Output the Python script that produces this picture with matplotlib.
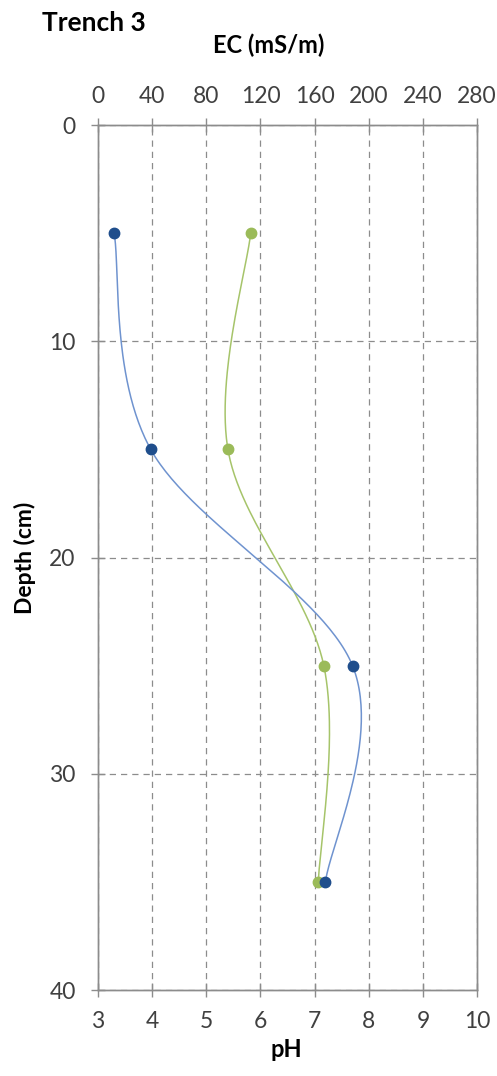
import numpy as np
import matplotlib
matplotlib.use('Agg')
import matplotlib.pyplot as plt

plt.rcParams['font.family'] = ['Lato', 'DejaVu Sans']

depth = [5, 15, 25, 35]
ec = [12, 39, 188, 168]          # mS/m, top axis
ph = [5.82, 5.40, 7.17, 7.07]    # bottom axis

ph_ticks = [3, 4, 5, 6, 7, 8, 9, 10]
ec_ticks = [0, 40, 80, 120, 160, 200, 240, 280]
depth_ticks = [0, 10, 20, 30, 40]

gridc = '#8c8c8c'


def smooth(xs, ys, xr, yr, w, h, n=60):
    # excel-like bezier smoothing done in pixel space
    px = (np.array(xs, float) - xr[0]) / (xr[1] - xr[0]) * w
    py = (np.array(ys, float) - yr[0]) / (yr[1] - yr[0]) * h
    P = np.column_stack([px, py])
    m = len(P)
    out = []
    for i in range(m - 1):
        p0 = P[i - 1] if i > 0 else P[i]
        p3 = P[i + 2] if i + 2 < m else P[i + 1]
        c1 = P[i] + (P[i + 1] - p0) / 6.0
        c2 = P[i + 1] - (p3 - P[i]) / 6.0
        t = np.linspace(0, 1, n)[:, None]
        seg = ((1 - t) ** 3 * P[i] + 3 * (1 - t) ** 2 * t * c1
               + 3 * (1 - t) * t ** 2 * c2 + t ** 3 * P[i + 1])
        out.append(seg)
    s = np.vstack(out)
    x = s[:, 0] / w * (xr[1] - xr[0]) + xr[0]
    y = s[:, 1] / h * (yr[1] - yr[0]) + yr[0]
    return x, y


fig = plt.figure(figsize=(4.97, 10.76), dpi=100)
ax = fig.add_axes([0.197, 0.0799, 0.763, 0.8039])
ax2 = ax.twiny()

W, H = 379, 865
ax.set_xlim(3, 10)
ax.set_ylim(40, 0)
ax2.set_xlim(0, 280)

ax.set_xticks(ph_ticks)
ax.set_yticks(depth_ticks)
ax2.set_xticks(ec_ticks)

ax.grid(True, color=gridc, linestyle=(0, (5, 4)), linewidth=0.9)
ax.set_axisbelow(True)

for a in (ax, ax2):
    for sp in a.spines.values():
        sp.set_color(gridc)
        sp.set_linewidth(1.0)
    a.tick_params(direction='inout', length=10, width=1.0, color=gridc,
                  labelsize=16.5, labelcolor='#404040')
ax.tick_params(axis='x', pad=10)
ax.tick_params(axis='y', pad=11)
ax2.tick_params(axis='x', pad=8)

# EC (blue), on top axis
sx, sy = smooth(ec, depth, (0, 280), (0, 40), W, H)
ax2.plot(sx, sy, color='#6f93cf', linewidth=1.1, zorder=3)
ax2.plot(ec, depth, 'o', color='#1f4e8c', markersize=7.5, zorder=4)

# pH (green), on bottom axis
gx, gy = smooth(ph, depth, (3, 10), (0, 40), W, H)
ax.plot(gx, gy, color='#a6c46a', linewidth=1.1, zorder=3)
ax.plot(ph, depth, 'o', color='#9bbb59', markersize=7.5, zorder=4)

fig.text(0.577, 0.0242, 'pH', fontsize=17, fontweight='bold',
         ha='center', va='center')
fig.text(0.541, 0.958, 'EC (mS/m)', fontsize=17, fontweight='bold',
         ha='center', va='center')
fig.text(0.05, 0.4814, 'Depth (cm)', fontsize=16.5, fontweight='bold',
         ha='center', va='center', rotation=90)
fig.text(0.085, 0.979, 'Trench 3', fontsize=19, fontweight='bold',
         ha='left', va='center')

fig.savefig('out.png', dpi=100, facecolor='white')
